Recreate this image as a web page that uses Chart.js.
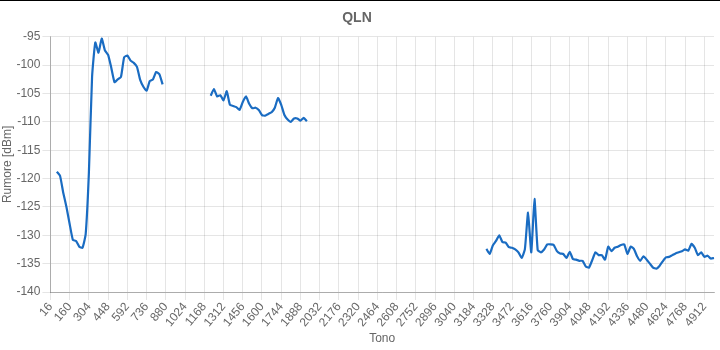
<!DOCTYPE html>
<html>
<head>
<meta charset="utf-8">
<script src="https://cdn.jsdelivr.net/npm/chart.js@4/dist/chart.umd.min.js"></script>
<style>
    html, body { margin: 0; padding: 0; background: #fff; }
    #wrap { position: relative; width: 720px; height: 350px; }
    #qln-chart { display: block; }
    #topline { position: absolute; left: 0; top: 0; width: 720px; height: 1px; background: #000; }
</style>
</head>
<body>
<div id="wrap">
    <canvas id="qln-chart" width="720" height="350"></canvas>
    <div id="topline"></div>
</div>
<script>
// Tones on the x axis (category labels)
const firstTone = 16;
const toneStep = 24;
const toneCount = 208;
const tones = Array.from({ length: toneCount }, (_, i) => firstTone + i * toneStep);

// QLN readings per band, each starting at the given tone
const band1Start = 64;
const band1 = [
    -118.8, -119.5, -122.5, -125, -128, -130.8, -131, -132, -132.2, -129.8,
    -119, -102, -96, -97.8, -95.3, -97.4, -98.2, -100.5, -103, -102.5,
    -102.1, -98.6, -98.3, -99.2, -99.6, -100.3, -102.6, -103.8, -104.5, -102.8,
    -102.5, -101.2, -101.6, -103.4
];

const band2Start = 1216;
const band2 = [
    -105.4, -104.2, -105.5, -105.3, -106.2, -104.6, -107, -107.2, -107.4, -107.9,
    -106.5, -105.5, -106.8, -107.6, -107.5, -107.9, -108.8, -108.9, -108.6, -108.3,
    -107.5, -105.8, -107, -108.8, -109.6, -110, -109.4, -109.4, -109.8, -109.3,
    -109.9
];

const band3Start = 3280;
const band3 = [
    -132.4, -133.3, -131.8, -131, -130, -131.2, -131.3, -132.1, -132.2, -132.5,
    -133, -134, -132.5, -126, -133, -123.6, -132.6, -133, -132.5, -131.6,
    -131.6, -131.7, -132.8, -133.2, -133.3, -134, -132.9, -134.2, -134.3, -134.5,
    -134.5, -135.5, -135.7, -134.4, -133, -133.5, -133.5, -134.3, -132, -132.8,
    -132.2, -132, -131.7, -131.6, -133.3, -132, -132.4, -133.7, -134.5, -133.7,
    -134.3, -135, -135.7, -135.9, -135.4, -134.6, -133.9, -133.8, -133.5, -133.2,
    -133, -132.8, -132.5, -132.7, -131.5, -132.2, -133.5, -133, -133.8, -133.6,
    -134.1, -134
];

// y axis range
const yMin = -140;
const yMax = -95;
const yStep = 5;

const buildSeries = () => {
    const series = new Array(tones.length).fill(null);
    [[band1Start, band1], [band2Start, band2], [band3Start, band3]].forEach(([start, values]) => {
        const offset = tones.indexOf(start);
        values.forEach((v, k) => { series[offset + k] = v; });
    });
    return series;
};

const fontFamily = '"Liberation Sans", Arial, Helvetica, sans-serif';
Chart.defaults.font.family = fontFamily;
Chart.defaults.color = '#666';

const ctx = document.getElementById('qln-chart').getContext('2d');
new Chart(ctx, {
    type: 'line',
    data: {
        labels: tones,
        datasets: [{
            label: 'QLN',
            data: buildSeries(),
            borderColor: '#1a6cc2',
            backgroundColor: '#1a6cc2',
            borderWidth: 2.2,
            pointRadius: 0,
            tension: 0.15,
            fill: false
        }]
    },
    options: {
        responsive: false,
        animation: false,
        layout: { padding: { left: 0, right: 6, top: 0, bottom: 0 } },
        plugins: {
            legend: { display: false },
            tooltip: { enabled: false },
            title: {
                display: true,
                text: 'QLN',
                color: '#666',
                font: { size: 14, weight: 'bold' },
                padding: { top: 10, bottom: 10 }
            }
        },
        scales: {
            x: {
                title: { display: true, text: 'Tono', font: { size: 12 }, padding: { top: 0, bottom: 4 } },
                ticks: {
                    font: { size: 12 },
                    minRotation: 50,
                    maxRotation: 50,
                    autoSkip: true,
                    autoSkipPadding: 0,
                    padding: 0
                },
                grid: { color: 'rgba(0,0,0,0.1)' },
                border: { color: 'rgba(0,0,0,0.25)' },
                // keep the bottom band as tight as in the original
                afterFit: (scale) => { scale.height = 58; }
            },
            y: {
                min: yMin,
                max: yMax,
                title: { display: true, text: 'Rumore [dBm]', font: { size: 12 }, padding: { top: 0, bottom: 0 } },
                ticks: { stepSize: yStep, font: { size: 12 }, padding: 2 },
                grid: { color: 'rgba(0,0,0,0.1)' },
                border: { color: 'rgba(0,0,0,0.25)' }
            }
        }
    }
});
</script>
</body>
</html>
